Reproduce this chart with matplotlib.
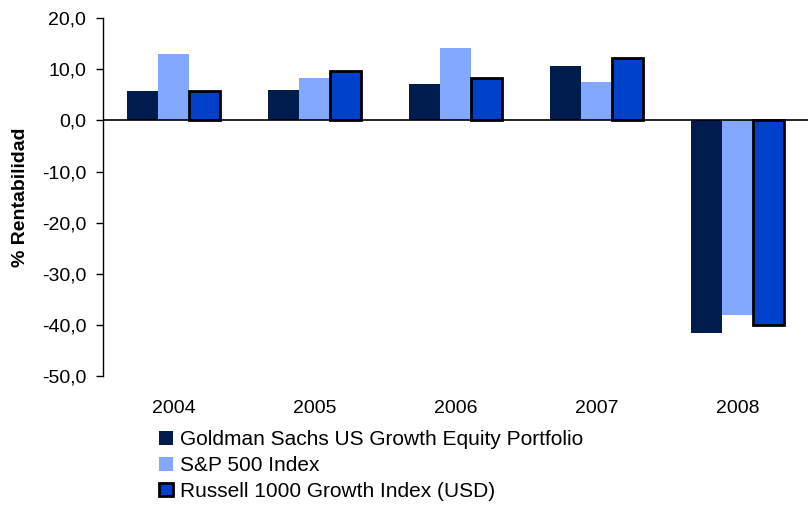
import matplotlib.pyplot as plt
import numpy as np
from matplotlib.ticker import FuncFormatter

plt.rcParams['font.family'] = ['Liberation Sans', 'DejaVu Sans']

# data
years = ['2004', '2005', '2006', '2007', '2008']
goldman = [5.7, 5.9, 7.2, 10.7, -41.5]
sp500 = [12.9, 8.4, 14.1, 7.6, -38.0]
russell = [5.8, 9.7, 8.3, 12.3, -39.9]
series_names = ['Goldman Sachs US Growth Equity Portfolio', 'S&P 500 Index',
                'Russell 1000 Growth Index (USD)']

fig = plt.figure(figsize=(8.1, 5.05), dpi=100)
ax = fig.add_axes([0.127, 0.255, 0.871, 0.709])

x = np.arange(len(years))
w = 0.22
ax.bar(x - w, goldman, w, color='#001B4D', label=series_names[0])
ax.bar(x, sp500, w, color='#82A8FF', label=series_names[1])
ax.bar(x + w, russell, w, color='#0041CC', edgecolor='black', linewidth=2,
       label=series_names[2])

ax.set_xlim(-0.5, len(years) - 0.5)
ax.set_ylim(-50, 20)
ax.set_yticks(range(-50, 21, 10))
ax.yaxis.set_major_formatter(FuncFormatter(lambda v, p: f'{v:.1f}'.replace('.', ',')))
ax.axhline(0, color='black', linewidth=1.2, zorder=3)

for s in ['top', 'right', 'bottom']:
    ax.spines[s].set_visible(False)
ax.spines['left'].set_linewidth(1)

ax.set_xticks(x)
ax.set_xticklabels(years)
ax.tick_params(axis='x', length=0, pad=17, labelsize=14)
ax.tick_params(axis='y', length=5, width=1, labelsize=14, pad=7, direction='out')
ax.set_ylabel('% Rentabilidad', fontsize=14, fontweight='bold')
ax.yaxis.set_label_coords(-0.105, 0.5)

ax.legend(loc='upper left', bbox_to_anchor=(0.068, -0.127), frameon=False,
          fontsize=15, handlelength=0.65, handleheight=0.65, handletextpad=0.35,
          labelspacing=0.33, borderaxespad=0)

fig.savefig('out.png', dpi=100)
